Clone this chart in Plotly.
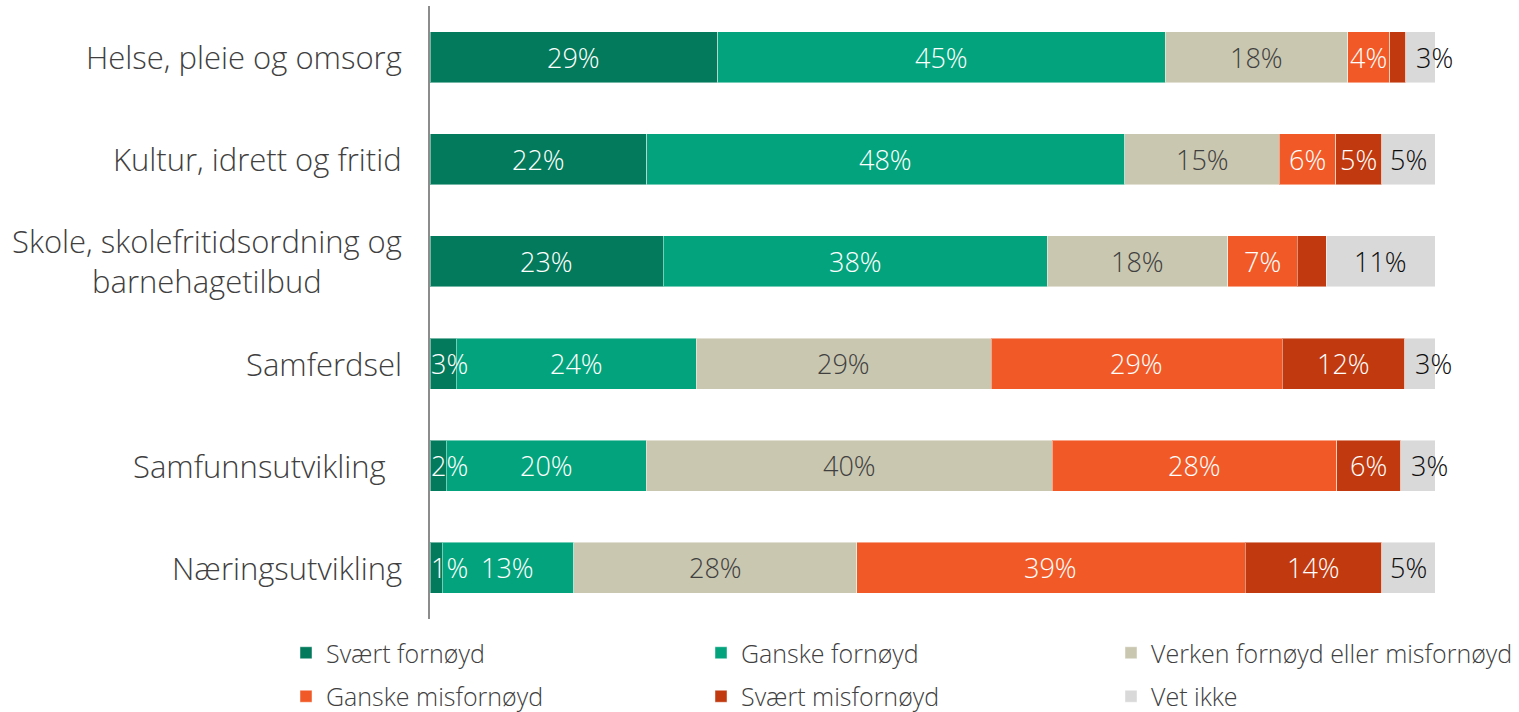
import plotly.graph_objects as go

categories = [
    "Helse, pleie og omsorg",
    "Kultur, idrett og fritid",
    "Skole, skolefritidsordning og<br>barnehagetilbud",
    "Samferdsel",
    "Samfunnsutvikling ",
    "Næringsutvikling",
]

series_names = [
    "Svært fornøyd",
    "Ganske fornøyd",
    "Verken fornøyd eller misfornøyd",
    "Ganske misfornøyd",
    "Svært misfornøyd",
    "Vet ikke",
]

svaert_fornoyd = [28.7, 21.6, 23.2, 2.6, 1.6, 1.2]
ganske_fornoyd = [44.6, 47.6, 38.2, 23.9, 19.9, 13.1]
verken = [18.2, 15.4, 18.0, 29.4, 40.4, 28.2]
ganske_misfornoyd = [4.2, 5.6, 6.9, 29.0, 28.3, 38.7]
svaert_misfornoyd = [1.6, 4.6, 2.9, 12.2, 6.4, 13.6]
vet_ikke = [2.9, 5.3, 10.8, 3.0, 3.4, 5.3]

series_values = [svaert_fornoyd, ganske_fornoyd, verken,
                 ganske_misfornoyd, svaert_misfornoyd, vet_ikke]

# labels that are not shown in the original (series index, category index)
hidden_labels = {(4, 0), (4, 2)}

colors = ["#037A5B", "#03A47D", "#C9C7B0", "#F15A27", "#C1390E", "#D9D9D9"]
label_colors = ["#FFFFFF", "#FFFFFF", "#404040", "#FFFFFF", "#FFFFFF", "#0D0D0D"]
legend_ids = ["legend", "legend2", "legend3", "legend", "legend2", "legend3"]

FONT = "'Open Sans', Lato, sans-serif"
W, H = 1519, 712

fig = go.Figure()
for i, (name, vals) in enumerate(zip(series_names, series_values)):
    fig.add_trace(go.Bar(
        name=name,
        y=categories,
        x=vals,
        orientation="h",
        marker=dict(color=colors[i], line=dict(color="rgba(255,255,255,0.45)", width=1)),
        legend=legend_ids[i],
        legendgroup=name,
        hoverinfo="skip",
    ))

# data labels, positioned on the normalised stacked scale
totals = [sum(col) for col in zip(*series_values)]
cum = [0.0] * len(categories)
for i, vals in enumerate(series_values):
    for j, v in enumerate(vals):
        seg = v / totals[j] * 100
        start = cum[j]
        cum[j] += seg
        if (i, j) in hidden_labels:
            continue
        if i == 0 and seg < 4:
            x, anchor, shift = start, "left", -1
        elif i == len(series_values) - 1 and seg < 4:
            x, anchor, shift = start, "left", 8
        else:
            x, anchor, shift = start + seg / 2, "center", 0
        fig.add_annotation(
            x=x, xref="x", y=categories[j], yref="y",
            text=f"{v:.0f}%", showarrow=False, xanchor=anchor, xshift=shift,
            font=dict(family=FONT, size=27, weight=300, color=label_colors[i]),
        )

for cat in categories:
    fig.add_annotation(
        x=0, xref="paper", y=cat, yref="y",
        text=cat.rstrip() + "\u00a0" * (len(cat) - len(cat.rstrip())) * 2,
        showarrow=False,
        xanchor="right", align="center", xshift=-26,
        font=dict(family=FONT, size=31, weight=300, color="#404040"),
    )

legend_common = dict(
    orientation="v", traceorder="grouped", tracegroupgap=8,
    yref="container", xref="container", y=1 - 630 / H, yanchor="top", xanchor="left",
    font=dict(family=FONT, size=25, weight=300, color="#404040"),
    itemclick=False, itemdoubleclick=False, bgcolor="rgba(0,0,0,0)",
)

fig.update_layout(
    width=W, height=H,
    barmode="stack", barnorm="percent", bargap=0.5,
    plot_bgcolor="white", paper_bgcolor="white",
    margin=dict(l=430, r=84, t=6, b=93, pad=0, autoexpand=False),
    xaxis=dict(range=[0, 100], showgrid=False, showticklabels=False,
               zeroline=False, showline=False, ticks=""),
    yaxis=dict(autorange="reversed", showticklabels=False, showgrid=False,
               showline=True, linecolor="#8C8C8C", linewidth=2, ticks="",
               zeroline=False),
    showlegend=True,
    legend=dict(legend_common, x=286 / W),
    legend2=dict(legend_common, x=701 / W),
    legend3=dict(legend_common, x=1111 / W),
)

fig.write_html(
    "out.html",
    config={"displayModeBar": False},
    post_script="document.body.style.margin='0';document.body.style.overflow='hidden';",
)
